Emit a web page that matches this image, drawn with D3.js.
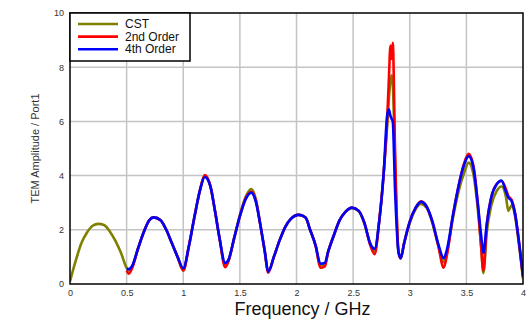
<!DOCTYPE html>
<html>
<head>
<meta charset="utf-8">
<script src="https://cdn.jsdelivr.net/npm/d3@7"></script>
<style>
  body { margin: 0; background: #fff; }
  svg { font-family: "Liberation Sans", Arial, sans-serif; }
</style>
</head>
<body>
<svg id="chart" width="529" height="320"></svg>
<script>
// CST covers 0..4 GHz, the two models start at ~0.5 GHz
const cstFreq = [0, 0.05, 0.1, 0.15, 0.2, 0.25, 0.3, 0.35, 0.4, 0.45, 0.5];
const cstHead = [0.1, 0.85, 1.5, 1.9, 2.15, 2.22, 2.18, 1.95, 1.6, 1.15, 0.6];

const freq = [0.5, 0.52, 0.55, 0.6, 0.65, 0.7, 0.74, 0.8, 0.85, 0.9, 0.95, 1.0,
  1.05, 1.1, 1.15, 1.19, 1.24, 1.28, 1.32, 1.37, 1.4, 1.45, 1.5, 1.55, 1.6,
  1.64, 1.68, 1.72, 1.75, 1.8, 1.85, 1.9, 1.95, 2.02, 2.08, 2.12, 2.17, 2.21,
  2.25, 2.28, 2.33, 2.38, 2.43, 2.49, 2.55, 2.6, 2.65, 2.69, 2.73, 2.77, 2.8,
  2.815, 2.83, 2.84, 2.85, 2.87, 2.9, 2.92, 2.95, 3.0, 3.05, 3.1, 3.15, 3.2,
  3.25, 3.3, 3.33, 3.38, 3.43, 3.48, 3.52, 3.56, 3.6, 3.63, 3.65, 3.68, 3.72,
  3.77, 3.81, 3.85, 3.87, 3.9, 3.93, 3.96, 4.0];

const cst = [0.58, 0.5, 0.65, 1.3, 1.9, 2.35, 2.46, 2.35, 2.0, 1.5, 1.0, 0.5,
  1.4, 2.5, 3.5, 4.0, 3.6, 2.7, 1.7, 0.7, 0.88, 1.7, 2.55, 3.2, 3.5,
  3.15, 2.2, 1.2, 0.45, 1.0, 1.6, 2.1, 2.4, 2.56, 2.45, 2.0, 1.4, 0.7,
  0.72, 1.2, 1.8, 2.35, 2.65, 2.8, 2.68, 2.22, 1.5, 1.2, 2.3, 4.1, 5.8,
  6.8, 7.5, 7.7, 7.4, 4.5, 1.2, 0.95, 1.5, 2.25, 2.75, 2.95, 2.8, 2.25,
  1.45, 0.8, 1.2, 2.4, 3.4, 4.1, 4.48, 4.1, 2.8, 1.4, 0.4, 1.9, 2.9,
  3.45, 3.6, 3.2, 2.7, 2.9, 2.5, 1.6, 0.2];

const order2 = [0.5, 0.38, 0.6, 1.3, 1.9, 2.35, 2.46, 2.35, 2.0, 1.5, 1.0, 0.5,
  1.4, 2.5, 3.5, 4.02, 3.6, 2.7, 1.7, 0.62, 0.85, 1.7, 2.5, 3.15, 3.4,
  3.1, 2.2, 1.2, 0.42, 1.0, 1.6, 2.1, 2.4, 2.55, 2.45, 2.0, 1.4, 0.6,
  0.65, 1.2, 1.8, 2.35, 2.65, 2.82, 2.7, 2.25, 1.45, 1.1, 2.3, 4.1, 6.0,
  7.5, 8.8, 8.3, 8.9, 5.0, 1.2, 0.95, 1.5, 2.3, 2.8, 3.05, 2.85, 2.3,
  1.45, 0.6, 1.1, 2.5, 3.6, 4.45, 4.8, 4.4, 3.0, 1.4, 0.5, 2.2, 3.2,
  3.7, 3.8, 3.5, 3.25, 3.1, 2.6, 1.7, 0.25];

const order4 = [0.55, 0.55, 0.68, 1.3, 1.9, 2.35, 2.46, 2.35, 2.0, 1.5, 1.0, 0.58,
  1.4, 2.5, 3.5, 3.95, 3.6, 2.7, 1.7, 0.78, 0.9, 1.7, 2.5, 3.12, 3.37,
  3.05, 2.2, 1.2, 0.45, 1.0, 1.6, 2.1, 2.4, 2.55, 2.45, 2.0, 1.4, 0.75,
  0.78, 1.2, 1.8, 2.35, 2.65, 2.82, 2.7, 2.25, 1.5, 1.3, 2.3, 4.1, 6.2,
  6.45, 6.2, 6.1, 6.0, 3.5, 1.2, 0.95, 1.5, 2.3, 2.8, 3.03, 2.85, 2.3,
  1.5, 0.95, 1.3, 2.5, 3.6, 4.4, 4.72, 4.35, 3.0, 1.8, 1.15, 2.2, 3.2,
  3.7, 3.82, 3.4, 3.2, 3.05, 2.6, 1.7, 0.3];

const xTicks = [0, 0.5, 1, 1.5, 2, 2.5, 3, 3.5, 4];
const yTicks = [0, 2, 4, 6, 8, 10];

const seriesNames = ["CST", "2nd Order", "4th Order"];
const seriesColors = ["#808000", "#ff0000", "#0000ff"];

const margin = { top: 13, right: 6, bottom: 36, left: 70 };
const W = 529, H = 320;
const width = W - margin.left - margin.right;
const height = H - margin.top - margin.bottom;

const svg = d3.select("#chart");
const g = svg.append("g")
  .attr("transform", `translate(${margin.left},${margin.top})`);

const x = d3.scaleLinear([0, 4], [0, width]);
const y = d3.scaleLinear([0, 10], [height, 0]);

g.append("clipPath").attr("id", "area")
  .append("rect").attr("width", width).attr("height", height);

// grid
g.selectAll(".vg").data(xTicks.slice(1, -1)).enter().append("line")
  .attr("x1", d => x(d)).attr("x2", d => x(d))
  .attr("y1", 0).attr("y2", height)
  .attr("stroke", "#c4c4c4").attr("stroke-width", 1.5);
g.selectAll(".hg").data(yTicks.slice(1, -1)).enter().append("line")
  .attr("y1", d => y(d)).attr("y2", d => y(d))
  .attr("x1", 0).attr("x2", width)
  .attr("stroke", "#c4c4c4").attr("stroke-width", 1.5);

// axes (labels only)
const xAxis = g.append("g")
  .attr("transform", `translate(0,${height})`)
  .call(d3.axisBottom(x).tickValues(xTicks).tickSize(0).tickPadding(6)
    .tickFormat(d3.format("")));
const yAxis = g.append("g")
  .call(d3.axisLeft(y).tickValues(yTicks).tickSize(0).tickPadding(6));
[xAxis, yAxis].forEach(a => {
  a.select(".domain").remove();
  a.selectAll("text").attr("fill", "#333").style("font-size", "9px");
});

// series
const line = d3.line()
  .x(d => x(d[0]))
  .y(d => y(d[1]))
  .curve(d3.curveMonotoneX);

const cstData = cstFreq.map((f, i) => [f, cstHead[i]])
  .concat(freq.slice(1).map((f, i) => [f, cst[i + 1]]));
const data = [
  cstData,
  freq.map((f, i) => [f, order2[i]]),
  freq.map((f, i) => [f, order4[i]])
];

data.forEach((d, i) => {
  g.append("path")
    .datum(d)
    .attr("clip-path", "url(#area)")
    .attr("fill", "none")
    .attr("stroke", seriesColors[i])
    .attr("stroke-width", 2.6)
    .attr("stroke-linejoin", "round")
    .attr("d", line);
});

// frame
g.append("rect")
  .attr("width", width).attr("height", height)
  .attr("fill", "none").attr("stroke", "#000").attr("stroke-width", 1.5);

// legend
const lg = g.append("g");
lg.append("rect")
  .attr("x", 0).attr("y", 0).attr("width", 120).attr("height", 48)
  .attr("fill", "#fff").attr("stroke", "#000").attr("stroke-width", 1.5);
seriesNames.forEach((name, i) => {
  const ly = 11 + i * 12.6;
  lg.append("line")
    .attr("x1", 8).attr("x2", 48).attr("y1", ly).attr("y2", ly)
    .attr("stroke", seriesColors[i]).attr("stroke-width", 2.6);
  lg.append("text")
    .attr("x", 55).attr("y", ly + 4)
    .style("font-size", "12px").attr("fill", "#111")
    .text(name);
});

// titles
svg.append("text")
  .attr("x", margin.left + width / 2 + 6).attr("y", 315)
  .attr("text-anchor", "middle")
  .style("font-size", "18px").attr("fill", "#111")
  .text("Frequency / GHz");

svg.append("text")
  .attr("transform", `translate(39,${margin.top + height / 2}) rotate(-90)`)
  .attr("text-anchor", "middle")
  .style("font-size", "11px").attr("fill", "#333")
  .text("TEM Amplitude / Port1");
</script>
</body>
</html>
